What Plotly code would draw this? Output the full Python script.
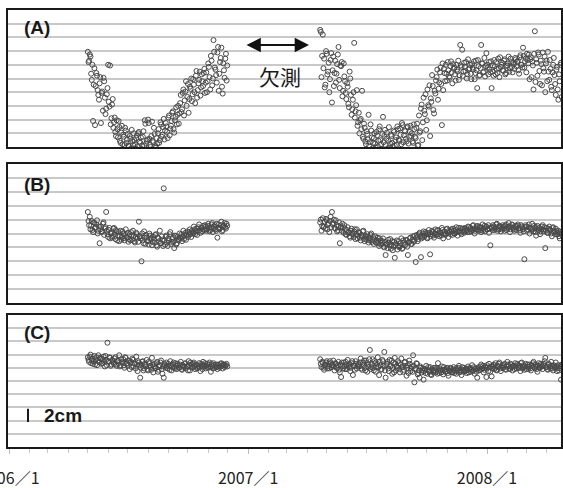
import pandas as pd
import plotly.graph_objects as go

# ---------------- data (cm), daily readings split into even / odd days ----------------
seg1_start = "2006-05-01"
seg2_start = "2007-04-21"
step = "2D"

a_seg1 = [13.9, 12.6, 13.2, 9.8, 3.8, 11.5, 8.9, 10.4, 7.6, 9.3,
          3.5, 8.1, 10.1, 7.2, 5.6, 8.6, 6.6, 11.9, 4.2, 7.0,
          3.6, 2.2, 3.9, 1.4, 2.9, 0.6, 3.1, 1.8, 0.3, 2.4,
          1.1, 0.2, 1.6, -0.2, 0.8, 2.0, 0.4, 1.3, 0.1, 2.2,
          0.6, -0.3, 1.5, 0.2, 3.4, 0.9, 4.0, 1.2, 0.0, 3.7,
          0.7, 1.9, -0.1, 0.5, 2.6, 1.0, 3.3, 1.8, 4.1, 2.4,
          3.0, 1.3, 4.6, 2.7, 3.8, 5.2, 2.1, 4.4, 3.3, 6.0,
          4.9, 7.6, 5.5, 8.4, 6.8, 9.6, 7.3, 5.0, 8.8, 10.0,
          7.7, 9.1, 6.4, 11.1, 8.3, 9.8, 7.5, 10.6, 8.9, 11.4,
          9.4, 8.0, 12.2, 10.2, 13.3, 9.0, 15.6, 11.6, 10.5, 13.8,
          8.2, 12.4, 14.5, 7.8, 11.2, 12.9, 9.7]
a_seg1_odd = [12.4, 13.5, 10.7, 12.0, 9.1, 3.2, 10.8, 8.3, 6.9, 10.2,
              7.9, 5.3, 9.6, 4.8, 7.7, 12.0, 5.9, 3.3, 6.2, 2.8,
              4.3, 1.6, 2.6, 3.8, 0.9, 2.1, 0.4, 1.5, 2.8, 0.6,
              1.9, 0.1, 1.2, 2.5, 0.3, 1.0, -0.2, 1.7, 2.0, 0.8,
              1.4, 0.2, 2.3, 3.9, 0.5, 1.1, 3.5, 0.3, 1.6, 0.9,
              2.8, 0.1, 1.3, 2.0, 0.6, 3.6, 1.5, 2.9, 1.1, 3.5,
              2.2, 4.3, 1.7, 3.1, 5.0, 2.6, 3.9, 5.8, 4.7, 3.4,
              6.4, 5.1, 7.9, 4.6, 8.1, 6.0, 9.2, 7.0, 8.5, 6.7,
              9.9, 8.0, 10.4, 7.2, 9.3, 11.0, 8.7, 9.6, 10.8, 7.9,
              10.9, 9.6, 11.7, 8.4, 12.6, 10.0, 13.9, 11.3, 9.4, 14.6,
              10.7, 13.0, 8.8, 12.2, 10.1, 13.6, 11.9]
a_seg2 = [17.1, 10.2, 16.4, 12.9, 9.1, 13.6, 11.0, 8.0, 12.7, 6.5,
          13.2, 10.8, 9.4, 12.1, 14.6, 8.6, 11.8, 7.4, 12.2, 9.6,
          7.0, 8.8, 5.8, 10.0, 4.7, 6.9, 15.2, 5.2, 8.3, 3.6,
          2.0, 4.1, 8.2, 1.2, 2.8, 0.4, 1.9, 4.7, 0.7, 2.4,
          -0.2, 1.3, 0.5, 2.2, 0.1, 2.6, 1.0, -0.3, 4.4, 1.6,
          0.3, 2.1, 0.9, -0.1, 1.8, 0.6, 2.4, 0.2, 1.4, 3.0,
          1.1, 2.7, 0.4, 3.2, 1.7, 2.3, 0.8, 2.9, 1.5, 3.1,
          2.0, 0.6, 2.6, 1.3, 3.4, 0.3, 2.1, 5.6, 1.0, 7.2,
          4.8, 2.5, 8.4, 5.9, 1.6, 6.6, 8.9, 4.9, 7.8, 10.2,
          6.9, 9.4, 11.6, 3.2, 8.3, 10.8, 12.0, 9.7, 11.2, 10.1,
          12.5, 9.3, 11.4, 10.6, 12.0, 11.0, 9.8, 14.9, 11.7, 10.4,
          12.3, 11.1, 10.0, 12.8, 11.5, 10.7, 12.1, 11.3, 9.9, 12.6,
          8.6, 11.8, 10.5, 14.9, 12.2, 11.0, 10.3, 13.7, 11.6, 12.4,
          10.9, 8.6, 11.9, 12.7, 10.6, 11.4, 12.9, 10.2, 11.7, 12.3,
          11.1, 12.8, 10.8, 11.9, 13.2, 11.5, 12.4, 10.9, 12.1, 13.0,
          11.8, 12.6, 10.7, 13.4, 12.0, 14.5, 11.6, 12.9, 13.6, 12.2,
          9.9, 13.1, 12.5, 8.4, 16.9, 12.8, 10.4, 13.5, 9.2, 12.1,
          13.8, 11.0, 8.0, 12.6, 13.9, 9.8, 11.4, 8.3, 12.0, 10.5,
          7.6, 11.7, 6.9, 9.6, 12.3]
a_seg2_odd = [16.8, 13.3, 11.5, 8.7, 14.0, 10.6, 12.3, 9.9, 13.7, 11.2,
              8.9, 12.6, 10.7, 13.5, 9.8, 11.9, 12.4, 8.2, 10.3, 7.9,
              9.3, 6.3, 11.0, 7.6, 5.5, 8.0, 4.3, 6.1, 3.1, 5.0,
              3.9, 2.6, 1.5, 3.4, 0.8, 2.3, 1.1, 0.2, 3.3, 1.4,
              0.6, 2.0, -0.1, 1.7, 0.9, 3.0, 0.4, 1.9, 0.7, 2.5,
              1.2, -0.2, 2.9, 0.5, 1.6, 0.1, 2.2, 1.0, 0.3, 2.6,
              0.9, 1.8, 3.5, 0.7, 2.4, 1.2, 3.0, 0.5, 2.2, 1.6,
              0.8, 3.3, 1.5, 2.8, 0.2, 4.6, 2.3, 6.2, 3.6, 5.3,
              7.7, 3.9, 6.1, 9.0, 7.1, 10.5, 5.4, 8.2, 9.7, 11.3,
              8.5, 10.9, 9.2, 12.2, 11.4, 9.6, 10.7, 12.4, 10.3, 11.8,
              10.9, 12.1, 11.6, 9.7, 11.3, 12.6, 10.5, 11.9, 14.2, 11.0,
              11.7, 12.4, 10.6, 11.3, 12.0, 9.9, 11.6, 12.5, 10.8, 11.2,
              12.7, 10.4, 11.5, 12.2, 10.9, 13.0, 11.8, 12.0, 10.6, 11.3,
              12.5, 11.0, 10.4, 11.8, 12.4, 10.8, 11.5, 13.1, 12.0, 11.2,
              12.6, 10.6, 11.8, 12.2, 11.0, 12.9, 11.7, 12.3, 11.4, 12.8,
              12.4, 11.2, 13.1, 12.0, 11.6, 13.3, 12.5, 10.9, 12.7, 13.5,
              12.8, 10.2, 11.9, 13.6, 9.5, 12.3, 13.8, 11.1, 12.6, 9.0,
              11.5, 13.2, 12.2, 9.6, 11.0, 12.7, 8.8, 10.9, 13.0, 9.2,
              11.3, 8.4, 10.6, 12.0, 7.3]

b_seg1 = [13.1, 11.2, 10.6, 11.8, 10.2, 11.5, 10.9, 11.9, 10.4, 8.6,
          11.0, 10.3, 11.6, 10.7, 13.1, 9.9, 10.5, 9.3, 10.1, 9.6,
          10.8, 9.2, 10.3, 9.7, 8.9, 10.4, 9.5, 10.0, 9.0, 10.6,
          9.4, 8.8, 9.9, 10.2, 9.1, 9.7, 8.7, 10.1, 9.3, 11.7,
          9.6, 6.0, 9.0, 10.3, 8.5, 9.4, 8.9, 10.0, 9.2, 8.3,
          9.5, 8.7, 9.9, 8.1, 9.3, 10.4, 8.6, 9.1, 16.5, 8.4,
          9.7, 8.2, 9.0, 10.2, 8.8, 9.4, 7.9, 9.6, 8.6, 9.2,
          10.0, 9.3, 8.9, 10.4, 9.7, 9.1, 10.3, 9.8, 10.6, 9.5,
          10.2, 11.0, 9.9, 10.7, 10.4, 11.3, 10.1, 10.8, 11.1, 10.5,
          11.0, 10.6, 11.4, 10.3, 10.9, 11.5, 10.7, 11.2, 10.4, 9.4,
          11.3, 10.8, 11.7, 10.5, 11.1, 10.9, 11.4]
b_seg1_odd = [11.8, 12.4, 11.1, 10.5, 11.6, 10.8, 11.3, 10.0, 11.0, 10.6,
              10.2, 11.4, 9.8, 10.9, 10.4, 9.5, 10.8, 10.0, 9.4, 10.7,
              9.9, 10.5, 9.0, 10.2, 9.6, 9.1, 10.3, 9.3, 9.8, 9.5,
              10.1, 9.2, 9.0, 9.7, 10.4, 8.9, 9.5, 9.9, 8.8, 9.6,
              9.3, 10.0, 8.6, 9.4, 9.8, 9.0, 8.4, 9.7, 9.3, 8.8,
              9.1, 9.8, 8.3, 9.4, 8.9, 8.6, 9.6, 8.2, 9.0, 9.5,
              8.7, 9.3, 9.9, 8.5, 9.2, 8.8, 9.7, 8.4, 9.5, 9.0,
              9.4, 9.9, 9.6, 9.2, 10.1, 9.8, 9.5, 10.2, 9.9, 10.4,
              10.0, 10.6, 10.3, 9.8, 10.9, 10.5, 10.8, 10.3, 10.6, 11.2,
              10.4, 11.1, 10.8, 10.5, 11.3, 10.2, 11.0, 10.6, 11.4, 10.8,
              10.6, 11.2, 10.3, 11.0, 11.5, 10.7, 11.1]
b_seg2 = [11.6, 10.4, 12.2, 11.0, 10.7, 11.9, 11.3, 10.2, 12.4, 13.1,
          11.5, 10.8, 11.9, 10.3, 11.1, 8.6, 10.9, 11.4, 10.1, 10.6,
          9.8, 10.9, 10.2, 9.4, 10.7, 9.9, 10.3, 9.2, 10.6, 9.7,
          10.1, 9.0, 9.6, 10.4, 8.9, 9.5, 9.9, 8.7, 9.3, 10.0,
          9.1, 8.5, 9.6, 8.8, 9.4, 8.2, 9.0, 8.6, 9.3, 8.0,
          6.9, 8.4, 9.1, 8.3, 7.8, 8.9, 8.1, 6.5, 8.6, 7.7,
          8.9, 8.2, 9.3, 7.9, 8.7, 8.4, 9.0, 6.9, 8.8, 9.4,
          8.5, 9.6, 9.0, 5.9, 9.8, 9.2, 10.1, 6.6, 9.5, 10.3,
          9.7, 10.0, 9.3, 10.5, 7.0, 9.9, 10.2, 9.4, 10.6, 9.8,
          10.4, 9.6, 10.1, 10.8, 9.3, 10.3, 9.9, 10.7, 9.5, 10.2,
          10.6, 9.8, 10.4, 10.0, 10.9, 9.7, 10.3, 10.8, 9.9, 10.5,
          10.1, 10.7, 10.4, 11.0, 10.2, 10.8, 10.5, 11.2, 10.0, 10.6,
          11.1, 10.4, 10.9, 10.2, 11.3, 10.7, 10.3, 11.0, 10.6, 10.1,
          8.3, 10.8, 11.2, 10.5, 10.9, 11.4, 10.6, 11.1, 10.3, 10.8,
          11.0, 10.4, 11.3, 10.7, 11.5, 10.2, 10.9, 11.2, 10.6, 11.1,
          10.5, 11.3, 10.8, 10.1, 11.0, 10.6, 6.3, 11.2, 10.4, 10.9,
          10.0, 10.7, 11.4, 10.3, 10.8, 9.7, 11.1, 10.5, 9.9, 10.6,
          11.2, 10.3, 7.9, 10.8, 10.1, 11.0, 10.5, 9.6, 10.9, 10.2,
          10.7, 9.9, 10.4, 9.3, 10.0]
b_seg2_odd = [12.0, 11.1, 10.9, 11.7, 12.1, 10.6, 11.5, 11.8, 10.9, 11.3,
              12.0, 10.7, 11.2, 10.5, 11.6, 10.8, 10.4, 10.9, 11.2, 9.9,
              10.5, 10.1, 9.6, 10.4, 10.0, 9.5, 10.6, 9.9, 9.3, 10.2,
              9.4, 9.8, 10.3, 9.2, 9.7, 9.1, 9.5, 9.0, 9.8, 8.8,
              9.5, 9.2, 8.7, 9.0, 8.6, 9.3, 8.4, 8.9, 8.1, 8.8,
              8.5, 7.9, 8.7, 9.2, 8.4, 7.6, 8.8, 8.3, 9.0, 8.2,
              8.0, 8.6, 7.8, 9.0, 8.3, 9.1, 8.1, 8.7, 9.3, 8.5,
              9.1, 8.8, 9.7, 9.4, 8.9, 9.9, 9.6, 9.3, 10.0, 9.5,
              10.2, 9.4, 9.9, 10.1, 9.6, 10.4, 9.7, 10.0, 9.8, 10.5,
              9.9, 10.2, 9.7, 10.5, 10.0, 9.8, 10.6, 10.1, 10.4, 9.9,
              10.3, 10.7, 10.0, 10.5, 10.2, 10.8, 10.4, 10.1, 10.7, 10.3,
              10.8, 10.5, 10.2, 10.9, 10.6, 10.3, 11.1, 10.7, 10.4, 10.9,
              10.6, 11.0, 10.5, 10.8, 10.4, 11.1, 10.9, 10.6, 11.2, 10.7,
              10.9, 10.5, 11.0, 10.7, 11.3, 10.4, 10.8, 11.0, 10.6, 11.2,
              10.7, 11.1, 10.5, 10.9, 11.0, 10.6, 11.3, 10.8, 10.4, 10.9,
              11.1, 10.7, 10.5, 11.2, 10.8, 10.3, 10.9, 11.0, 10.6, 11.3,
              10.8, 10.4, 10.6, 11.1, 10.2, 10.9, 10.5, 10.8, 10.3, 11.0,
              10.6, 10.9, 10.4, 10.1, 10.7, 10.5, 10.0, 10.8, 10.3, 9.9,
              10.4, 10.1, 9.6, 10.2, 9.8]

c_seg1 = [13.6, 12.9, 14.0, 13.1, 12.6, 13.8, 13.3, 12.4, 13.9, 12.8,
          13.4, 12.7, 13.7, 12.2, 13.2, 15.8, 12.9, 13.5, 12.5, 13.1,
          12.6, 13.6, 12.3, 13.0, 13.9, 12.4, 12.8, 13.3, 12.0, 13.5,
          12.7, 13.1, 11.8, 12.9, 13.4, 12.2, 12.6, 13.7, 11.5, 12.8,
          10.5, 12.5, 13.0, 11.9, 12.4, 13.2, 11.6, 12.7, 12.1, 13.5,
          11.3, 12.6, 12.0, 12.9, 11.7, 12.3, 13.1, 11.1, 10.5, 12.4,
          12.8, 11.9, 12.2, 13.0, 11.6, 12.5, 12.1, 12.7, 11.8, 12.4,
          12.0, 12.9, 11.7, 12.3, 12.6, 11.9, 12.2, 13.0, 11.6, 12.5,
          12.1, 12.8, 11.8, 12.4, 12.0, 12.7, 11.5, 12.3, 12.9, 12.2,
          11.9, 12.6, 12.1, 12.8, 11.4, 12.3, 12.7, 12.0, 12.5, 11.8,
          12.4, 12.2, 12.7, 11.9, 12.5, 12.3, 12.6]
c_seg1_odd = [13.2, 13.7, 12.7, 13.4, 13.0, 12.5, 13.6, 13.1, 12.9, 13.5,
              12.6, 13.3, 12.9, 13.8, 12.4, 13.0, 13.6, 12.3, 13.2, 12.8,
              13.4, 12.5, 13.1, 12.7, 12.2, 13.3, 12.9, 12.4, 13.6, 12.6,
              12.3, 13.0, 12.8, 12.1, 13.2, 12.7, 11.9, 12.5, 13.0, 12.4,
              12.0, 12.9, 11.6, 12.6, 12.2, 11.8, 12.9, 12.3, 11.7, 12.5,
              12.2, 11.9, 12.7, 11.4, 12.4, 12.8, 11.8, 12.2, 12.6, 12.0,
              12.3, 12.6, 11.7, 12.4, 12.1, 12.8, 11.9, 12.3, 12.6, 12.0,
              12.5, 11.8, 12.4, 12.1, 12.7, 12.2, 11.6, 12.4, 12.8, 12.0,
              12.6, 12.2, 12.5, 11.9, 12.3, 12.1, 12.6, 11.8, 12.4, 12.7,
              12.3, 12.0, 12.5, 12.2, 12.6, 11.9, 12.4, 12.2, 12.1, 12.5,
              12.0, 12.6, 12.3, 12.5, 12.1, 12.4, 12.2]
c_seg2 = [13.3, 12.1, 12.8, 11.7, 12.5, 13.0, 12.2, 11.9, 12.7, 12.4,
          13.1, 11.6, 12.6, 12.0, 12.9, 11.3, 10.6, 12.3, 12.8, 11.8,
          12.5, 13.2, 12.1, 11.5, 12.7, 10.9, 12.3, 13.0, 11.9, 12.6,
          12.2, 13.4, 11.7, 12.8, 12.0, 13.1, 11.4, 12.5, 14.7, 12.1,
          13.3, 11.6, 12.7, 12.2, 13.6, 10.9, 12.4, 11.8, 13.0, 14.4,
          10.5, 12.6, 11.9, 13.2, 12.3, 11.1, 12.8, 13.5, 11.6, 12.0,
          12.7, 11.3, 13.4, 12.1, 11.7, 12.9, 10.8, 12.4, 13.1, 11.5,
          12.2, 13.9, 9.8, 11.9, 12.6, 11.2, 10.5, 12.0, 11.6, 10.2,
          11.8, 12.3, 11.1, 11.6, 12.1, 10.9, 11.5, 12.0, 11.3, 11.8,
          12.7, 11.2, 11.6, 12.2, 11.0, 11.7, 11.4, 12.0, 10.8, 11.5,
          11.9, 11.3, 12.1, 11.6, 11.1, 11.8, 12.3, 11.4, 10.9, 11.7,
          12.0, 11.5, 11.2, 12.2, 11.8, 11.4, 12.4, 11.6, 11.1, 11.9,
          10.5, 12.1, 11.7, 12.5, 11.9, 11.3, 12.2, 10.6, 12.0, 12.6,
          11.4, 10.7, 12.3, 11.8, 12.7, 11.6, 12.1, 12.8, 11.5, 12.4,
          12.0, 12.6, 11.7, 12.9, 12.2, 11.8, 12.5, 11.6, 12.3, 12.7,
          11.9, 12.4, 12.0, 11.5, 12.8, 12.1, 11.7, 12.6, 12.2, 11.8,
          12.5, 11.6, 12.3, 12.9, 11.9, 12.2, 11.4, 12.7, 12.0, 12.4,
          11.8, 12.6, 13.5, 12.1, 11.7, 12.5, 11.9, 12.3, 11.6, 12.2,
          12.8, 11.5, 12.4, 11.9, 10.2]
c_seg2_odd = [12.6, 12.9, 12.0, 12.4, 12.8, 11.9, 12.6, 13.0, 12.1, 12.5,
              12.2, 12.7, 12.0, 12.4, 11.7, 12.5, 12.8, 11.9, 12.2, 12.9,
              11.8, 12.4, 12.6, 12.0, 13.0, 12.3, 11.7, 12.6, 12.2, 12.4,
              12.8, 11.9, 12.4, 13.1, 11.6, 12.7, 12.2, 13.3, 11.8, 12.5,
              12.0, 13.0, 11.4, 12.6, 12.1, 12.9, 11.7, 13.2, 12.3, 11.6,
              12.4, 12.9, 11.5, 12.2, 13.1, 12.0, 11.3, 12.6, 12.2, 13.0,
              11.8, 12.5, 12.1, 11.4, 12.8, 12.3, 12.0, 11.2, 12.6, 11.9,
              11.4, 12.3, 11.8, 12.7, 11.0, 11.6, 12.2, 11.3, 11.9, 11.5,
              11.2, 11.7, 12.1, 11.4, 11.0, 11.8, 11.3, 11.6, 12.0, 11.1,
              11.5, 11.9, 11.3, 11.7, 12.1, 11.4, 11.8, 11.2, 11.6, 12.0,
              11.4, 11.7, 11.2, 11.9, 11.5, 12.0, 11.3, 11.6, 12.1, 11.4,
              11.6, 11.9, 11.8, 11.3, 12.0, 11.7, 11.5, 12.1, 11.8, 11.4,
              11.9, 11.6, 12.2, 11.8, 12.3, 11.7, 12.0, 12.4, 11.5, 12.1,
              12.2, 11.9, 12.5, 12.0, 11.7, 12.3, 12.6, 11.9, 12.2, 12.0,
              12.4, 11.8, 12.2, 12.5, 11.9, 12.6, 12.1, 12.3, 11.8, 12.2,
              12.6, 12.0, 12.3, 12.7, 11.9, 12.4, 12.2, 11.8, 12.5, 12.1,
              11.9, 12.4, 12.7, 12.1, 12.5, 11.8, 12.3, 12.0, 12.6, 12.2,
              12.4, 13.0, 12.1, 11.8, 12.6, 12.2, 12.9, 11.9, 12.4, 12.0,
              12.3, 12.0, 11.6, 12.2, 12.5]

panel_labels = ["(A)", "(B)", "(C)"]
tick_dates = ["2006-01-01", "2007-01-01", "2008-01-01"]
tick_text = ["2006／1", "2007／1", "2008／1"]
gap_label = "欠測"
scale_label = "2cm"


def dates(start, n, offset_days=0):
    return list(pd.date_range(pd.Timestamp(start) + pd.Timedelta(days=offset_days),
                              periods=n, freq=step))


def series(s1, s1o, s2, s2o):
    xs = (dates(seg1_start, len(s1)) + dates(seg1_start, len(s1o), 1)
          + dates(seg2_start, len(s2)) + dates(seg2_start, len(s2o), 1))
    ys = s1 + s1o + s2 + s2o
    return xs, ys


# ---------------- layout geometry ----------------
W, H = 563, 488


def py(px):
    return 1 - px / H


def pxx(px):
    return px / W


x_dom = [pxx(8), pxx(561)]
panels = [(10, 147), (164, 303), (315, 447)]
x_range = ["2005-12-30", "2008-04-23"]

fig = go.Figure()
all_data = [(a_seg1, a_seg1_odd, a_seg2, a_seg2_odd),
            (b_seg1, b_seg1_odd, b_seg2, b_seg2_odd),
            (c_seg1, c_seg1_odd, c_seg2, c_seg2_odd)]
for k, parts in enumerate(all_data):
    xs, ys = series(*parts)
    sfx = "" if k == 0 else str(k + 1)
    fig.add_trace(go.Scatter(
        x=xs, y=ys, mode="markers",
        xaxis="x" + sfx, yaxis="y" + sfx,
        marker=dict(symbol="circle-open", size=5, color="#4a4a4a",
                    line=dict(width=1, color="#4a4a4a")),
        showlegend=False, hoverinfo="skip"))

frame = dict(showline=True, mirror=True, linecolor="#1a1a1a", linewidth=2)
layout = dict(width=W, height=H, margin=dict(l=0, r=0, t=0, b=0, autoexpand=False),
              paper_bgcolor="white", plot_bgcolor="white", showlegend=False)
for k, (top, bot) in enumerate(panels):
    sfx = "" if k == 0 else str(k + 1)
    last = (k == 2)
    xa = dict(domain=x_dom, type="date", range=x_range, anchor="y" + sfx,
              showgrid=False, zeroline=False, automargin=False, **frame)
    if last:
        xa.update(tickvals=tick_dates, ticktext=tick_text, ticks="outside",
                  ticklen=5, tickcolor="#bdbdbd", tickwidth=1,
                  tickfont=dict(family="Noto Sans CJK JP", size=16, color="#222222"),
                  ticklabelstandoff=11, ticklabeloverflow="allow",
                  minor=dict(dtick="M1", tick0="2006-01-01", ticks="outside",
                             ticklen=4, tickcolor="#c8c8c8", tickwidth=1, showgrid=False))
    else:
        xa.update(showticklabels=False, ticks="")
    ya = dict(domain=[py(bot), py(top)], range=[0, 20], dtick=2,
              showgrid=True, gridcolor="#c9c9c9", gridwidth=2,
              zeroline=False, showticklabels=False, ticks="", automargin=False,
              anchor="x" + sfx, **frame)
    layout["xaxis" + sfx] = xa
    layout["yaxis" + sfx] = ya
fig.update_layout(**layout)

# panel labels
label_y = [28, 184, 332]
for lab, yy in zip(panel_labels, label_y):
    fig.add_annotation(x=pxx(37), y=py(yy), xref="paper", yref="paper",
                       text="<b>" + lab + "</b>", showarrow=False,
                       font=dict(family="Liberation Sans", size=19, color="#1a1a1a"),
                       xanchor="center", yanchor="middle")

# double arrow for missing period
fig.add_annotation(x=pxx(309), y=py(45), xref="paper", yref="paper",
                   ax=-64, ay=0, text="", showarrow=True,
                   arrowhead=2, arrowside="end+start", arrowsize=1.3,
                   arrowwidth=2.2, arrowcolor="#111111", standoff=0, startstandoff=0)
fig.add_annotation(x=pxx(280), y=py(76), xref="paper", yref="paper",
                   text=gap_label, showarrow=False,
                   font=dict(family="Noto Sans CJK JP", size=21, color="#1a1a1a"),
                   xanchor="center", yanchor="middle")

# 2 cm scale bar in panel C
fig.add_shape(type="line", xref="paper", yref="y3",
              x0=pxx(28), x1=pxx(28), y0=3.8, y1=5.8,
              line=dict(color="#1a1a1a", width=2))
fig.add_annotation(x=pxx(42), y=py(415), xref="paper", yref="paper",
                   text="<b>" + scale_label + "</b>", showarrow=False,
                   font=dict(family="Liberation Sans", size=19, color="#1a1a1a"),
                   xanchor="left", yanchor="middle")

# the page's default 8px body margin would otherwise offset the figure
fig.write_html("out.html", config={"displayModeBar": False},
               post_script="document.body.style.margin='0';document.body.style.overflow='hidden';")
